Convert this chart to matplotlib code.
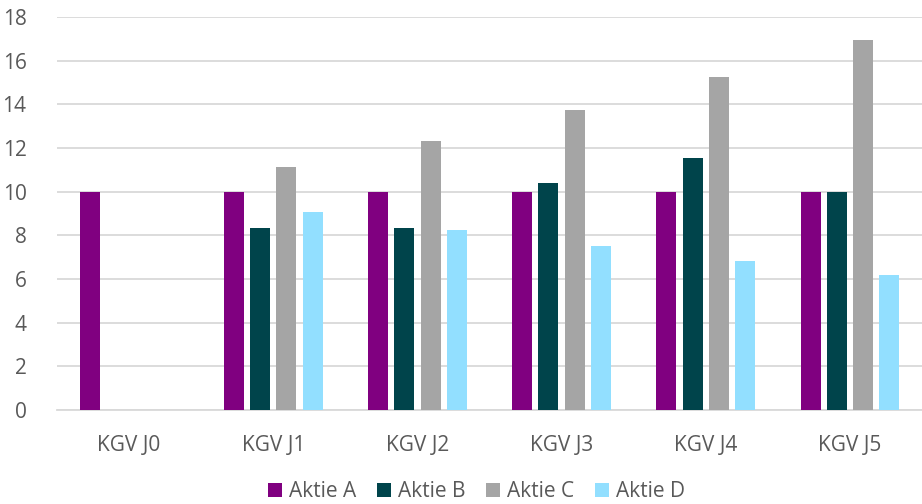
import numpy as np
import matplotlib.pyplot as plt

# KGV (Kurs-Gewinn-Verhaeltnis) je Jahr
kategorien = ["KGV J0", "KGV J1", "KGV J2", "KGV J3", "KGV J4", "KGV J5"]
aktie_a = [10, 10, 10, 10, 10, 10]
aktie_b = [np.nan, 8.33, 8.33, 10.4, 11.53, 10.0]
aktie_c = [np.nan, 11.11, 12.33, 13.72, 15.23, 16.93]
aktie_d = [np.nan, 9.08, 8.24, 7.49, 6.82, 6.18]
serien = ["Aktie A", "Aktie B", "Aktie C", "Aktie D"]
farben = ["#800080", "#00444B", "#A5A5A5", "#92DFFF"]
y_ticks = list(range(0, 19, 2))

plt.rcParams["font.family"] = ["Open Sans", "DejaVu Sans"]

fig = plt.figure(figsize=(9.22, 5.04), dpi=100)
ax = fig.add_axes([57 / 922, 94 / 504, 865 / 922, 393 / 504])

x = np.arange(len(kategorien))
pitch = 0.182
breite = 0.139
for i, (werte, name, farbe) in enumerate(zip([aktie_a, aktie_b, aktie_c, aktie_d], serien, farben)):
    ax.bar(x + (i - 1.5) * pitch, werte, width=breite, color=farbe, label=name, zorder=3)

ax.set_xlim(-0.5, len(kategorien) - 0.5)
ax.set_ylim(0, 18)
ax.set_yticks(y_ticks)
ax.set_xticks(x)
ax.set_xticklabels(kategorien)
ax.grid(axis="y", color="#D9D9D9", linewidth=1.3, zorder=0)
for s in ["top", "right", "left"]:
    ax.spines[s].set_visible(False)
ax.spines["bottom"].set_color("#D9D9D9")
ax.spines["bottom"].set_linewidth(1.3)
ax.tick_params(axis="both", length=0, labelsize=15, colors="#595959")
ax.tick_params(axis="y", pad=22)
ax.tick_params(axis="x", pad=18)

fig.legend(loc="lower center", bbox_to_anchor=(0.517, -0.033), ncol=4, frameon=False,
           fontsize=15, handlelength=0.65, handleheight=0.65, handletextpad=0.35,
           columnspacing=1.0, labelcolor="#595959")

fig.savefig("out.png", dpi=100)
